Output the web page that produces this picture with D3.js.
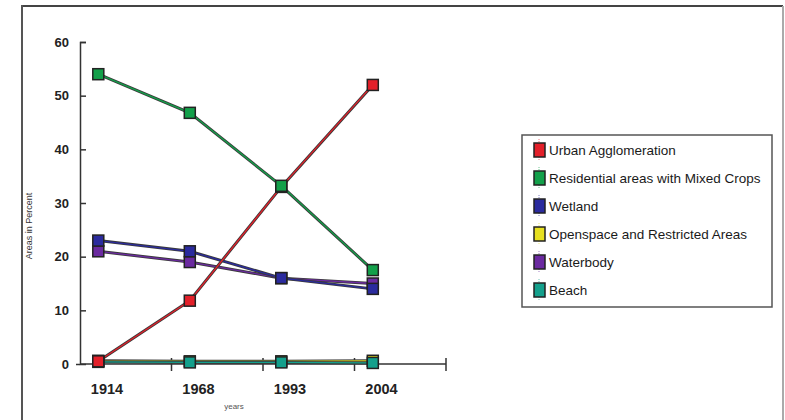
<!DOCTYPE html>
<html><head><meta charset="utf-8">
<script src="https://cdn.jsdelivr.net/npm/d3@7"></script>
<style>html,body{margin:0;padding:0;background:#fff;}svg{display:block;}</style>
</head><body>
<script>
const years = ["1914", "1968", "1993", "2004"];
const seriesNames = ["Urban Agglomeration", "Residential areas with Mixed Crops", "Wetland", "Openspace and Restricted Areas", "Waterbody", "Beach"];
const urban = [0.5, 11.8, 33, 52];
const residential = [54, 46.8, 33.2, 17.5];
const wetland = [23, 21, 16, 14];
const openspace = [0.6, 0.5, 0.5, 0.6];
const waterbody = [21, 19, 16, 15];
const beach = [0.4, 0.3, 0.3, 0.2];
const yTicks = [0, 10, 20, 30, 40, 50, 60];
const colors = ["#e3202a", "#13a04a", "#2b2b9e", "#e6e020", "#6b2aa0", "#14a08c"];

const seriesValues = [urban, residential, wetland, openspace, waterbody, beach];
const W = 785, H = 420;
const svg = d3.select("body").append("svg").attr("width", W).attr("height", H);
const FONT = "Liberation Sans, Arial, sans-serif";

// outer frame
svg.append("line").attr("x1", 22).attr("y1", 6).attr("x2", 783).attr("y2", 6).attr("stroke", "#444").attr("stroke-width", 2);
svg.append("line").attr("x1", 22).attr("y1", 5).attr("x2", 22).attr("y2", 420).attr("stroke", "#555").attr("stroke-width", 2);
svg.append("line").attr("x1", 783).attr("y1", 6).attr("x2", 783).attr("y2", 420).attr("stroke", "#aaa").attr("stroke-width", 2);

const x = d3.scaleBand().domain(years).range([80, 446]).paddingInner(0).paddingOuter(0);
const px = d => x(d) + x.bandwidth() * 0.2;
const y = d3.scaleLinear().domain([0, 60]).range([364, 42]);

// Y axis
const yAxis = d3.axisLeft(y).tickValues(yTicks).tickSize(-6).tickPadding(11).tickFormat(d3.format("d"));
const gy = svg.append("g").attr("transform", "translate(80,0)").call(yAxis);
gy.select(".domain").attr("stroke", "#333").attr("stroke-width", 1.5);
gy.selectAll(".tick line").attr("stroke", "#333").attr("stroke-width", 1.5);
gy.selectAll(".tick text").attr("font-family", FONT).attr("font-size", 13).attr("font-weight", "bold").attr("fill", "#222");
gy.selectAll(".tick").filter(d => d === 0).select("line").attr("x2", -4);

// X axis line and ticks
svg.append("line").attr("x1", 80).attr("x2", 446).attr("y1", y(0)).attr("y2", y(0)).attr("stroke", "#333").attr("stroke-width", 1.5);
const bounds = years.map(d => x(d) + x.bandwidth());
svg.selectAll(".xt").data(bounds).enter().append("line")
  .attr("x1", d => d).attr("x2", d => d).attr("y1", y(0) - 6).attr("y2", y(0) + 7)
  .attr("stroke", "#333").attr("stroke-width", 1.5);
svg.selectAll(".xl").data(years).enter().append("text")
  .attr("x", d => x(d) + x.bandwidth() * 0.295).attr("y", 394)
  .attr("text-anchor", "middle").attr("font-family", FONT)
  .attr("font-size", 14.5).attr("font-weight", "bold").attr("fill", "#222").text(d => d);

// axis titles
svg.append("text").attr("x", 234).attr("y", 409).attr("text-anchor", "middle")
  .attr("font-family", FONT).attr("font-size", 8).attr("fill", "#555").text("years");
svg.append("text").attr("transform", "translate(32,226) rotate(-90)").attr("text-anchor", "middle")
  .attr("font-family", FONT).attr("font-size", 9).attr("fill", "#333").text("Areas in Percent");

// lines
const line = d3.line().x((d, i) => px(years[i])).y(d => y(d));
const order = [3, 5, 4, 2, 0, 1];
order.forEach(s => {
  svg.append("path").datum(seriesValues[s]).attr("d", line).attr("fill", "none").attr("stroke", "#3a3a3a").attr("stroke-width", 3);
  svg.append("path").datum(seriesValues[s]).attr("d", line).attr("fill", "none").attr("stroke", colors[s]).attr("stroke-width", 1.3);
});
order.forEach(s => {
  svg.selectAll(null).data(seriesValues[s]).enter().append("rect")
    .attr("x", (d, i) => px(years[i]) - 5.5).attr("y", d => y(d) - 5.5)
    .attr("width", 11).attr("height", 11)
    .attr("fill", colors[s]).attr("stroke", "#222").attr("stroke-width", 1.5);
});

// legend
const lg = svg.append("g");
lg.append("rect").attr("x", 522).attr("y", 135).attr("width", 250).attr("height", 172)
  .attr("fill", "#fff").attr("stroke", "#555").attr("stroke-width", 1.5);
seriesNames.forEach((n, i) => {
  const cy = 150 + i * 28;
  lg.append("line").attr("x1", 539).attr("x2", 539).attr("y1", cy - 11).attr("y2", cy + 11)
    .attr("stroke", colors[i]).attr("stroke-width", 1).attr("stroke-dasharray", "1,1").attr("opacity", 0.6);
  lg.append("rect").attr("x", 534).attr("y", cy - 7).attr("width", 11).attr("height", 14)
    .attr("fill", colors[i]).attr("stroke", "#222").attr("stroke-width", 1.5);
  lg.append("text").attr("x", 549).attr("y", cy + 4.5)
    .attr("font-family", FONT).attr("font-size", 13.5).attr("fill", "#1a1a1a").text(n);
});
</script>
</body></html>
